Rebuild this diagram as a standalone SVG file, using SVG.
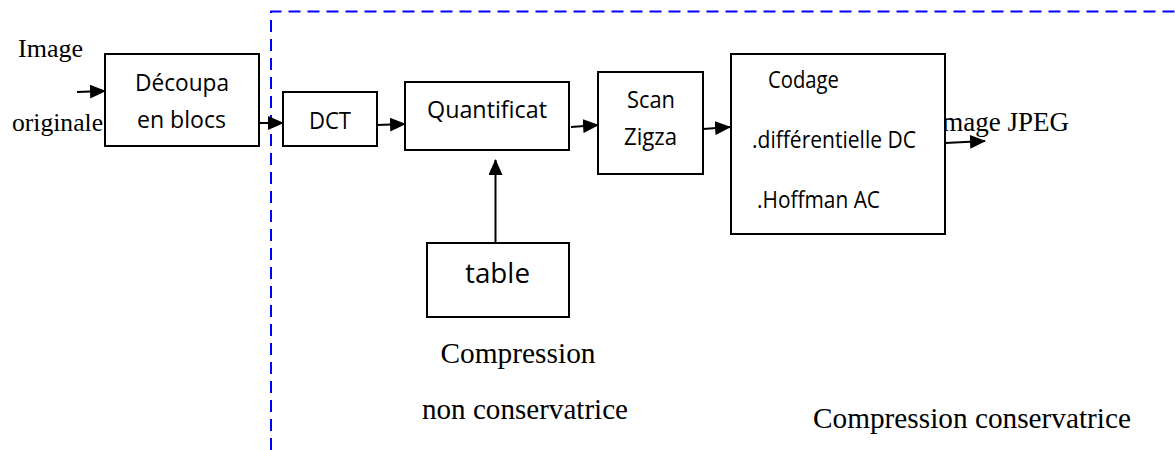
<svg xmlns="http://www.w3.org/2000/svg" width="1175" height="450" viewBox="0 0 1175 450">
<style>
.box{fill:#fff;stroke:#000;stroke-width:2}
.sans{font-family:"Open Sans","Noto Sans",sans-serif;font-size:23px;fill:#000}
.serif{font-family:"Liberation Serif","Times New Roman",serif;font-size:26px;fill:#000}
.big{font-size:29px}
.conn{stroke:#000;stroke-width:2;fill:none;marker-end:url(#ah)}
.frame{stroke:#0000ff;stroke-width:2;fill:none;stroke-dasharray:12 7}
</style>
<defs>
<marker id="ah" viewBox="0 0 16 14" refX="15" refY="7" markerWidth="16" markerHeight="14" markerUnits="userSpaceOnUse" orient="auto">
<path d="M0,0 L16,7 L0,14 Z" fill="#000"/>
</marker>
</defs>
<g id="frame"><path class="frame" d="M271,450 L271,11.5 L1175,11.5"/></g>
<g id="labels">
<text class="serif" x="18" y="57" textLength="65" lengthAdjust="spacingAndGlyphs">Image</text>
<text class="serif" x="12" y="131" textLength="91" lengthAdjust="spacingAndGlyphs">originale</text>
<text class="serif" x="1069" y="131" text-anchor="end" style="font-size:27px">Image JPEG</text>
<text class="serif big" x="518" y="363" text-anchor="middle" textLength="155" lengthAdjust="spacingAndGlyphs">Compression</text>
<text class="serif big" x="525" y="419" text-anchor="middle" textLength="206" lengthAdjust="spacingAndGlyphs">non conservatrice</text>
<text class="serif big" x="813" y="428" textLength="318" lengthAdjust="spacingAndGlyphs">Compression conservatrice</text>
</g>
<g id="connectors">
<line class="conn" x1="77" y1="92" x2="105" y2="91"/>
<line class="conn" x1="245" y1="123" x2="283" y2="123"/>
<line class="conn" x1="377" y1="125" x2="405" y2="124"/>
<line class="conn" x1="571" y1="127" x2="598" y2="125"/>
<line class="conn" x1="703" y1="129" x2="730" y2="127"/>
<line class="conn" x1="945" y1="143" x2="985" y2="141"/>
<line class="conn" x1="495.5" y1="245" x2="495.5" y2="160"/>
</g>
<g id="decoupa">
<rect class="box" x="105" y="54" width="154" height="92"/>
<text class="sans" x="135" y="91" textLength="94" lengthAdjust="spacingAndGlyphs">Découpa</text>
<text class="sans" x="137" y="128" textLength="89" lengthAdjust="spacingAndGlyphs">en blocs</text>
</g>
<g id="dct">
<rect class="box" x="283" y="92" width="94" height="54"/>
<text class="sans" x="309" y="129" textLength="42" lengthAdjust="spacingAndGlyphs">DCT</text>
</g>
<g id="quantificat">
<rect class="box" x="405" y="82" width="164" height="68"/>
<text class="sans" x="427" y="118" textLength="120" lengthAdjust="spacingAndGlyphs">Quantificat</text>
</g>
<g id="scan">
<rect class="box" x="598" y="72" width="105" height="102"/>
<text class="sans" x="627" y="108" textLength="48" lengthAdjust="spacingAndGlyphs">Scan</text>
<text class="sans" x="624" y="145" textLength="53" lengthAdjust="spacingAndGlyphs">Zigza</text>
</g>
<g id="codage">
<rect class="box" x="731" y="54" width="214" height="180"/>
<text class="sans" x="768" y="88" textLength="71" lengthAdjust="spacingAndGlyphs">Codage</text>
<text class="sans" x="752" y="148" textLength="164" lengthAdjust="spacingAndGlyphs">.différentielle DC</text>
<text class="sans" x="757" y="208" textLength="123" lengthAdjust="spacingAndGlyphs">.Hoffman AC</text>
</g>
<g id="table">
<rect class="box" x="427" y="243" width="142" height="74"/>
<text class="sans" x="465" y="283" style="font-size:27px" textLength="65" lengthAdjust="spacingAndGlyphs">table</text>
</g>
</svg>
